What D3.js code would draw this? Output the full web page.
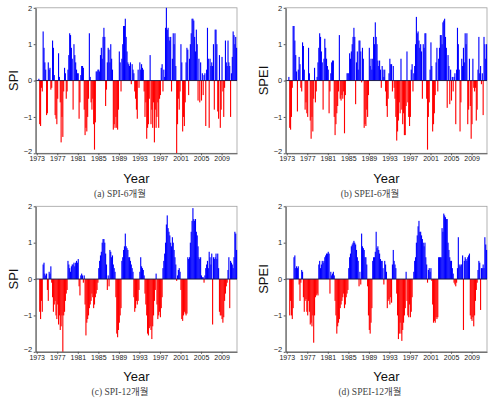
<!DOCTYPE html>
<html><head><meta charset="utf-8">
<script src="https://cdn.jsdelivr.net/npm/d3@7"></script>
<style>body{margin:0;background:#fff}svg{display:block}</style>
</head><body>
<svg id="c" width="500" height="404"></svg>
<script>
// bimonthly values, 1973-2011 (6 per year)
const startYear = 1973;
const yearTicks = [1973,1977,1981,1985,1989,1993,1997,2001,2005,2009];
const yTicks = [-2,-1,0,1,2];

const spi6 = [
 null,null,0.05,-1.2,-1.25,-0.2,
 -0.3,1.35,0.9,0.5,0.3,-0.95,
 -0.9,0.5,0.3,0.35,-0.25,-0.2,
 1.1,0.9,0.15,-0.95,-1.05,-1.2,
 -0.5,0.75,0.1,-0.6,-1.7,-1.0,
 -1.55,-0.3,0.35,0.2,-0.5,-0.3,
 0.3,0.7,1.3,1.25,0.9,0.6,
 -0.8,1.0,0.7,0.5,0.3,0.2,
 0.2,-1.05,-0.6,0.15,0.4,0.4,
 0.35,-0.8,-1.5,-1.3,-1.4,-1.0,
 -0.5,1.3,0.1,-0.6,-0.8,-0.5,
 -1.2,-1.9,-1.15,0.25,0.25,0.3,
 0.3,0.25,0.7,0.9,0.6,1.2,
 1.45,1.2,-0.7,-0.25,0.5,0.9,
 0.85,0.5,1.0,0.6,0.3,-1.35,
 -1.2,-1.3,-1.0,-1.3,-1.35,-0.8,
 0.8,0.5,-0.3,0.6,1.0,1.5,
 1.5,1.7,1.2,0.8,0.5,0.45,
 0.4,0.5,-0.1,0.45,0.3,0.2,
 -0.3,-0.5,-0.8,-1.05,0.3,-0.2,
 0.5,0.3,0.45,0.35,0.3,-0.3,
 -1.0,-0.6,-1.6,-1.3,-1.2,-0.5,
 0.7,-1.2,-0.8,-1.3,-0.6,-1.7,
 -0.8,-1.3,-1.0,-0.6,-1.3,-0.5,
 -0.4,0.35,0.45,-0.3,0.3,0.1,
 1.45,2.0,1.4,1.45,1.2,1.1,
 1.2,-0.3,0.6,1.3,1.0,1.3,
 0.4,-2.0,-1.2,-0.5,-0.8,-0.3,
 1.0,0.5,-1.4,-1.0,-1.25,-0.6,
 0.5,0.9,0.85,-0.4,0.6,1.0,
 1.3,1.7,1.7,1.65,1.2,0.8,
 1.4,1.0,-0.55,0.6,-0.6,0.5,
 -0.55,0.2,-0.4,0.15,0.2,-1.25,
 0.3,1.45,0.6,-1.3,0.6,0.4,
 0.5,0.4,1.0,-0.8,1.4,1.4,
 1.0,-0.85,-1.05,0.7,-1.3,-0.8,
 0.65,-0.3,-1.0,-0.2,1.1,0.5,
 0.4,1.1,0.5,0.4,-1.0,0.2,
 0.65,1.35,1.25,1.0,1.2,0.9
];

const spei6 = [
 null,null,0.1,-1.3,-1.35,-1.0,
 -0.2,1.5,1.5,1.1,0.7,0.25,
 -0.85,0.3,0.65,0.45,-0.2,-0.3,
 1.05,0.95,0.3,-0.8,-0.6,-0.9,
 -1.0,0.9,0.2,-1.1,-1.6,-1.0,
 -1.4,-0.5,0.35,-0.6,-0.3,0.1,
 0.5,0.9,1.3,1.2,0.8,0.5,
 -0.8,0.6,1.15,0.9,0.6,0.4,
 0.3,-0.9,-0.3,0.2,0.5,0.55,
 0.55,-1.0,-1.5,-1.2,-0.9,-0.7,
 -0.3,1.25,-0.5,-0.55,-0.4,-0.5,
 -0.3,-1.45,-0.4,0.0,0.2,0.2,
 0.2,0.75,0.6,0.8,1.0,1.2,
 1.45,1.2,-0.65,0.5,0.8,0.3,
 1.1,1.1,0.8,-0.05,0.9,0.6,
 -1.3,-1.2,-1.25,-0.8,-1.0,-0.4,
 0.9,0.4,0.6,0.3,0.6,1.2,
 1.0,1.6,1.2,1.0,0.55,0.4,
 0.55,0.3,-0.2,0.4,0.3,0.1,
 0.3,-0.3,-0.7,-1.0,-0.5,0.2,
 0.6,0.45,0.45,-0.3,0.4,-0.2,
 -0.5,-1.0,-1.65,-1.4,-1.1,-0.6,
 -0.9,0.6,-0.8,-1.2,-0.9,-1.5,
 -1.5,-0.7,0.8,-0.6,-1.0,-1.25,
 -1.0,0.3,0.45,-0.3,0.2,0.4,
 1.0,1.75,1.3,1.35,1.1,0.9,
 1.0,0.8,-0.5,1.0,0.9,1.3,
 1.3,-0.5,-1.9,-1.0,-0.6,0.3,
 1.05,0.4,-1.4,-1.2,-0.9,-0.4,
 0.5,0.9,-0.3,0.6,0.9,1.25,
 1.25,1.0,1.6,1.65,1.7,1.2,
 0.9,-0.75,0.7,0.4,-0.65,0.3,
 -0.55,0.1,-0.3,0.1,0.2,-1.2,
 0.3,1.45,1.0,0.3,-1.4,-0.6,
 0.6,0.4,0.9,0.5,1.3,1.0,
 1.3,-1.2,-0.8,0.6,-0.7,-1.6,
 -1.2,0.6,-0.2,-0.3,-0.2,-1.1,
 -0.8,0.3,1.2,0.2,0.4,-0.1,
 0.2,-0.95,1.2,1.0,0.6,1.0
];

const spi12 = [
 null,null,null,-0.9,-1.1,-0.6,
 -0.9,0.4,0.45,0.15,0.1,0.15,
 -0.3,-0.6,0.2,0.15,0.35,-0.1,
 -0.5,-0.9,-0.7,-0.6,-1.0,-1.1,
 -0.7,-1.25,-1.0,-1.4,-1.3,-1.0,
 -2.0,-1.0,-0.9,-0.6,-0.4,-0.3,
 0.5,0.4,0.3,0.2,0.35,0.4,
 0.4,0.45,0.35,0.45,0.5,0.45,
 0.55,-0.2,-0.45,0.1,0.15,0.1,
 -0.1,0.1,-0.7,-1.55,-1.2,-1.1,
 -1.0,-0.8,-0.7,-0.6,-0.4,-0.5,
 -0.8,-0.7,-0.5,-0.4,-0.3,-0.1,
 0.3,0.5,0.65,0.75,1.0,1.1,
 1.1,1.0,0.7,0.4,-0.3,0.1,
 -0.2,0.8,0.75,0.6,0.65,0.4,
 0.3,0.2,-0.5,-1.5,-1.6,-1.4,
 -1.2,-1.0,-0.8,0.5,0.6,0.8,
 0.9,1.25,0.9,0.85,0.8,0.6,
 0.6,0.5,0.4,0.3,0.2,-0.5,
 -0.9,-0.8,-0.6,-0.7,-0.6,-0.3,
 0.2,0.6,0.35,0.3,0.25,0.1,
 -0.4,-0.7,-1.0,-1.5,-1.55,-1.35,
 -1.3,-1.4,-1.65,-1.3,-1.0,-0.6,
 -0.3,0.15,-0.7,-1.1,-1.0,-0.9,
 -1.05,-0.8,-0.5,0.3,0.5,0.7,
 1.0,1.5,1.75,1.4,1.3,1.2,
 1.0,0.9,1.15,1.0,0.8,0.6,
 0.4,-0.05,0.1,0.25,0.3,0.2,
 -0.3,-1.1,-1.15,-1.0,-0.9,-0.95,
 -1.0,-0.95,0.6,0.55,0.6,1.0,
 1.3,1.6,1.95,1.65,1.6,1.65,
 1.3,1.2,0.9,0.6,0.55,0.6,
 0.1,0.05,0.05,-0.1,0.1,0.3,
 0.4,0.5,0.3,0.75,0.6,0.4,
 0.7,-1.25,0.6,0.55,0.6,0.7,
 0.55,0.7,0.3,-0.9,-1.0,-1.0,
 -1.1,-1.2,-1.05,-0.6,-0.4,-0.2,
 -0.1,0.25,0.6,-0.8,0.5,0.45,
 0.4,0.3,0.6,1.3,1.25,0.8
];

const spei12 = [
 null,null,null,-1.0,-0.6,-1.0,
 -1.1,-0.8,0.6,0.65,0.3,0.35,
 0.3,0.35,-0.15,-0.6,-0.1,0.25,
 0.2,-0.5,-0.9,-0.6,-0.55,-0.9,
 -1.0,-0.6,-0.9,-1.25,-1.2,-1.3,
 -1.0,-1.75,-1.0,-0.5,-0.45,-0.4,
 -0.45,0.4,0.5,0.3,0.4,0.5,
 0.45,0.5,0.6,0.65,0.7,0.7,
 0.75,0.7,-0.4,0.2,0.1,0.15,
 0.2,0.1,-0.6,-1.0,-1.5,-1.3,
 -1.2,-1.1,-0.8,-0.7,-0.6,-0.5,
 -0.4,-0.8,-0.7,-0.5,-0.4,-0.3,
 0.3,0.6,0.7,0.9,0.95,1.0,
 1.05,1.0,0.95,0.8,0.6,0.5,
 -0.2,0.2,-0.15,1.25,0.9,0.85,
 0.8,0.6,0.6,0.4,-0.2,-1.0,
 -1.4,-1.5,-1.2,-0.8,0.5,0.6,
 0.6,0.75,1.3,0.85,0.9,0.8,
 0.7,0.55,0.5,0.5,0.3,-0.15,
 0.5,0.4,0.2,-0.8,-0.6,-0.55,
 -0.7,-0.5,-0.65,0.4,0.8,0.5,
 0.4,0.3,-0.4,-1.0,-1.65,-1.5,
 -1.2,-1.5,-1.7,-1.4,-1.2,-1.0,
 -0.8,0.2,-0.6,-1.0,-1.05,-0.7,
 -1.05,-0.9,-0.5,0.0,0.2,0.5,
 0.6,1.0,1.2,1.45,1.6,1.3,
 1.3,1.2,1.1,1.0,0.9,1.0,
 0.6,0.4,-0.1,0.25,0.3,0.2,
 0.3,-0.05,-0.7,-1.2,-1.15,-1.2,
 -1.05,-1.1,-1.05,0.6,0.6,0.6,
 0.6,1.4,1.3,1.8,1.75,1.7,
 1.65,1.65,1.0,0.8,0.6,0.5,
 0.5,0.3,0.15,-0.1,-0.15,-0.2,
 -0.1,0.3,1.15,0.4,0.35,0.4,
 0.4,0.65,-1.4,0.5,0.6,0.55,
 0.5,0.6,0.65,0.7,-1.0,-1.1,
 -1.15,-1.05,-1.3,-1.0,-0.6,-0.3,
 -0.1,0.25,0.5,0.45,-0.85,0.3,
 0.3,0.4,0.3,1.15,0.95,0.8
];

const panels = [
  {data: spi6,   ylab: "SPI",  cap: "(a) SPI-6개월",   ox: 0,   oy: 0},
  {data: spei6,  ylab: "SPEI", cap: "(b) SPEI-6개월",  ox: 250, oy: 0},
  {data: spi12,  ylab: "SPI",  cap: "(c) SPI-12개월",  ox: 0,   oy: 198.5},
  {data: spei12, ylab: "SPEI", cap: "(d) SPEI-12개월", ox: 250, oy: 198.5}
];

const svg = d3.select("#c");
const L = 35.7, R = 237, T = 7.8, B = 153.3;
const font = "Arial, 'Liberation Sans', sans-serif";

panels.forEach(p => {
  const g = svg.append("g").attr("transform", `translate(${p.ox},${p.oy})`);
  const x = d3.scaleLinear().domain([1972.8, 2012.0]).range([L, R]);
  const y = d3.scaleLinear().domain([-2, 2]).range([B, T]);
  const step = x(startYear + 1/6) - x(startYear);

  g.append("rect").attr("x", L).attr("y", T).attr("width", R - L).attr("height", B - T)
    .attr("fill", "none").attr("stroke", "#a0a0a0").attr("stroke-width", 0.8);

  const pts = p.data.map((v, i) => ({t: startYear + i / 6, v})).filter(d => d.v !== null);
  g.append("g").selectAll("rect").data(pts).enter().append("rect")
    .attr("x", d => x(d.t) - step * 0.15)
    .attr("width", step * 1.3)
    .attr("y", d => d.v >= 0 ? y(d.v) : y(0))
    .attr("height", d => Math.abs(y(d.v) - y(0)))
    .attr("fill", d => d.v >= 0 ? "#0000ff" : "#ff0000");

  g.append("line").attr("x1", L).attr("x2", R).attr("y1", y(0)).attr("y2", y(0))
    .attr("stroke", "#14143c").attr("stroke-width", 0.9);

  const xa = g.append("g").attr("transform", `translate(0,${B})`)
    .call(d3.axisBottom(x).tickValues(yearTicks).tickFormat(d3.format("d")).tickSize(2).tickSizeOuter(0));
  xa.select(".domain").attr("stroke", "#555");
  xa.selectAll("line").attr("stroke", "#555");
  xa.selectAll("text").attr("font-family", font)
    .attr("font-size", 7).attr("fill", "#222").attr("dy", 0).attr("y", 8);

  const ya = g.append("g").attr("transform", `translate(${L},0)`)
    .call(d3.axisLeft(y).tickValues(yTicks).tickFormat(d3.format("d")).tickSize(2).tickSizeOuter(0));
  ya.select(".domain").attr("stroke", "#555");
  ya.selectAll("line").attr("stroke", "#555");
  ya.selectAll("text").attr("font-family", font)
    .attr("font-size", 7.5).attr("fill", "#222").attr("x", -3.5)
    .attr("dy", d => d === -2 ? "0em" : "0.3em");

  g.append("text").attr("transform", `translate(18.3,${(T + B) / 2}) rotate(-90)`)
    .attr("text-anchor", "middle").attr("font-family", font)
    .attr("font-size", 13).attr("fill", "#111").text(p.ylab);

  g.append("text").attr("x", (L + R) / 2).attr("y", 182.7)
    .attr("text-anchor", "middle").attr("font-family", font)
    .attr("font-size", 13).attr("fill", "#111").text("Year");

  g.append("text").attr("x", 120).attr("y", 196.5)
    .attr("text-anchor", "middle").attr("font-family", "'Liberation Serif', 'Noto Sans CJK KR', serif")
    .attr("font-size", 9.5).attr("fill", "#444").text(p.cap);
});
</script>
</body></html>
